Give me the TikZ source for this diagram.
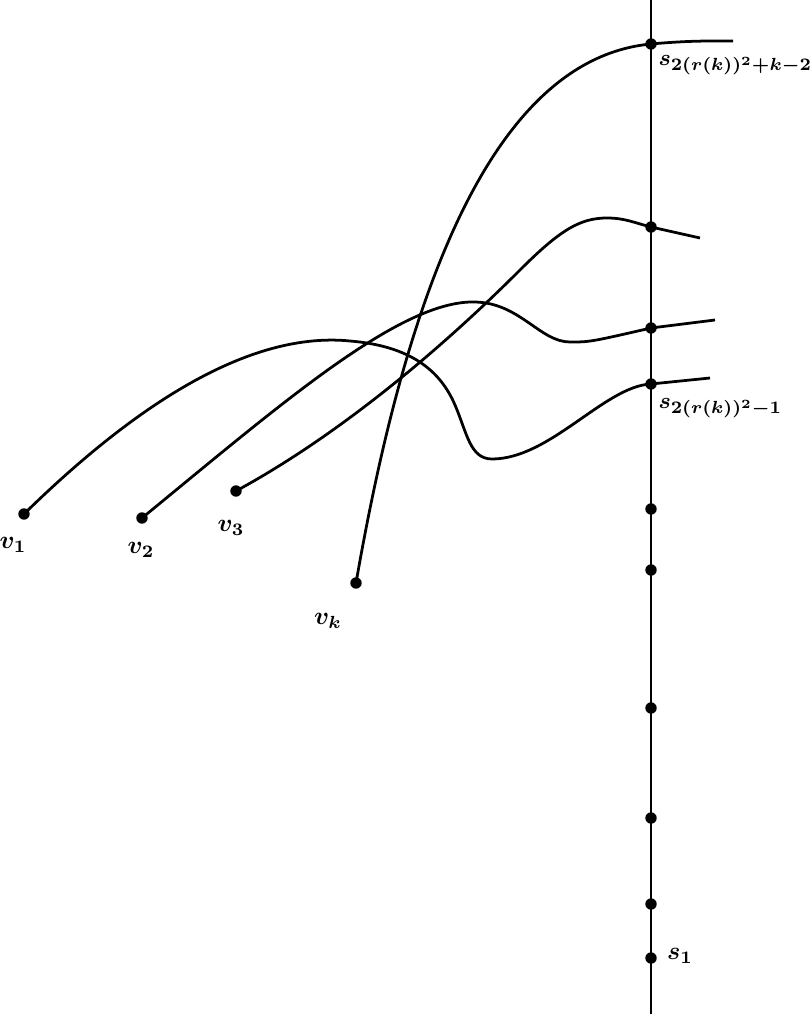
\documentclass[tikz,border=0pt]{standalone}
\usetikzlibrary{positioning}
\begin{document}
\begin{tikzpicture}[x=0.014cm,y=-0.014cm,
  dot/.style={circle,fill=black,inner sep=0pt,minimum size=1.6mm},
  curve/.style={line width=1.1pt},
  lbl/.style={inner sep=1pt,font=\boldmath},
  slbl/.style={inner sep=0pt,anchor=west,font=\boldmath\fontsize{9.4}{11}\selectfont}]
\useasboundingbox (0,0) rectangle (810,1014);

% ---- vertical path with its vertices
\coordinate (top) at (651,0);
\coordinate (bot) at (651,1014);
\draw[line width=0.9pt] (top) -- (bot);
\foreach \name/\y in {d1/958,d2/904,d3/818,d4/708,d5/570,d6/509,d7/384,d8/328,d9/227,d10/44}
  \node[dot] (\name) at (651,\y) {};
\node[slbl] (ltop) at (658,65) {$s_{2(r(k))^2+k-2}$};
\node[slbl] (lmid) at (658,408) {$s_{2(r(k))^2-1}$};
\node[lbl,anchor=west] (lbot) at (664,956) {$s_1$};

% ---- terminals
\node[dot] (v1) at (24,514) {};
\node[dot] (v2) at (142,518) {};
\node[dot] (v3) at (236,491) {};
\node[dot] (vk) at (356,583) {};
\node[lbl] at (13,545) {$v_1$};
\node[lbl] at (141,550) {$v_2$};
\node[lbl] at (231,528) {$v_3$};
\node[lbl] at (328,621) {$v_k$};

% ---- free ends right of the path
\coordinate (e1) at (710,378);
\coordinate (e2) at (715,320);
\coordinate (e3) at (700,238);
\coordinate (ek) at (733,41);

% ---- curves
\draw[curve] (v1.center) .. controls (120,420) and (240,330) .. (350,341)
  .. controls (410,346) and (440,370) .. (455,405)
  .. controls (467,433) and (470,459) .. (492,459)
  .. controls (550,459) and (605,386) .. (d7.center)
  .. controls (680,381) .. (e1);
\draw[curve] (v2.center) .. controls (280,405) and (400,300) .. (475,302)
  .. controls (520,303) and (540,342) .. (570,342)
  .. controls (590,342) .. (d8.center) -- (e2);
\draw[curve] (v3.center) .. controls (330,440) and (430,360) .. (520,270)
  .. controls (560,230) and (580,218) .. (607,218)
  .. controls (625,218) and (635,223) .. (d9.center) -- (e3);
\draw[curve] (vk.center) .. controls (400,330) and (480,60) .. (d10.center)
  .. controls (690,40.5) and (710,41) .. (ek);
\end{tikzpicture}
\end{document}
